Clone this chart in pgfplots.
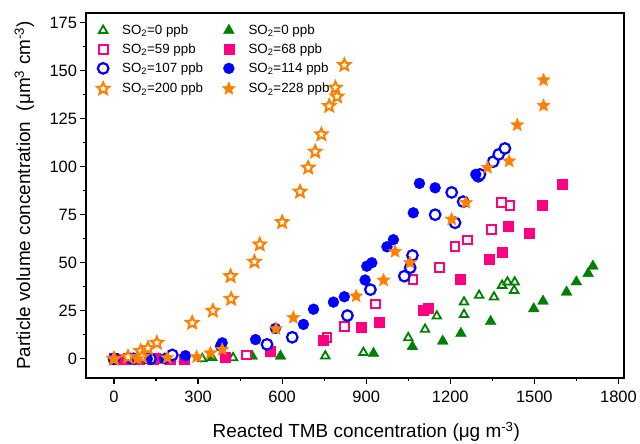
\documentclass[border=0pt]{standalone}
\usepackage{fontspec}
\setmainfont{Liberation Sans}
\usepackage{pgfplots}
\pgfplotsset{compat=1.18}
\definecolor{cgreen}{RGB}{0,128,0}
\definecolor{cpink}{RGB}{255,0,128}
\definecolor{cblue}{RGB}{0,0,255}
\definecolor{corange}{RGB}{255,128,0}
\pgfdeclareplotmark{pstar}{%
  \pgfpathmoveto{\pgfpointpolar{90}{\pgfplotmarksize}}%
  \pgfpathlineto{\pgfpointpolar{126}{0.45*\pgfplotmarksize}}%
  \pgfpathlineto{\pgfpointpolar{162}{\pgfplotmarksize}}%
  \pgfpathlineto{\pgfpointpolar{198}{0.45*\pgfplotmarksize}}%
  \pgfpathlineto{\pgfpointpolar{234}{\pgfplotmarksize}}%
  \pgfpathlineto{\pgfpointpolar{270}{0.45*\pgfplotmarksize}}%
  \pgfpathlineto{\pgfpointpolar{306}{\pgfplotmarksize}}%
  \pgfpathlineto{\pgfpointpolar{342}{0.45*\pgfplotmarksize}}%
  \pgfpathlineto{\pgfpointpolar{18}{\pgfplotmarksize}}%
  \pgfpathlineto{\pgfpointpolar{54}{0.45*\pgfplotmarksize}}%
  \pgfpathclose
  \pgfusepathqfillstroke
}
\begin{document}
\begin{tikzpicture}
\path[use as bounding box] (-86bp,-66bp) rectangle (554bp,378bp);
\begin{axis}[
  at={(0,0)}, anchor=south west, scale only axis,
  width=538bp, height=365bp,
  xmin=-100, xmax=1820, ymin=-10, ymax=180,
  xtick={0,300,...,1800}, ytick={0,25,...,175},
  minor x tick num=1, minor y tick num=1,
  tick align=outside, xtick pos=bottom, ytick pos=left,
  major tick length=5.5bp, minor tick length=3bp,
  every tick/.style={black, line width=1.2bp},
  axis line style={black, line width=1.6bp},
  tick label style={font=\fontsize{16.5}{18}\selectfont},
  xticklabel style={yshift=-4bp},
  /pgf/number format/assume math mode=true,
  /pgf/number format/1000 sep={},
  xlabel={Reacted TMB concentration (μg m\textsuperscript{-3})},
  ylabel={Particle volume concentration\ \ (μm\textsuperscript{3} cm\textsuperscript{-3})},
  label style={font=\fontsize{19}{21}\selectfont},
  xlabel style={at={(axis description cs:0.521,-0.163)}, anchor=base},
  ylabel style={at={(axis description cs:-0.104,0.5)}, anchor=base},
  legend columns=2,
  legend cell align=left,
  legend style={draw=none, fill=none, at={(axis description cs:0.0204,0.970)}, anchor=north west,
    font=\fontsize{13.4}{15}\selectfont, inner sep=0pt, row sep=7.8bp, column sep=13bp,
    nodes={inner sep=0pt},
    /tikz/column 2/.style={column sep=19bp}},
  legend image code/.code={\draw[mark repeat=2,mark phase=2,#1] plot coordinates {(0bp,0bp)(7bp,0bp)(14bp,0bp)};},
]
% SO2=0 ppb open triangles
\addplot[only marks, mark=triangle*, mark size=4.9bp, mark options={draw=cgreen, fill=white, line width=1.8bp}] coordinates {
(0,0) (60,0) (120,0) (180,0) (315,0) (425,0.5) (754,1.4) (890,3.2) (1050,10.9) (1110,15.3) (1152,22.2) (1249,23) (1249,29.5) (1303,33) (1356,32.1) (1385,38.2) (1404,39.9) (1430,39.9) (1428,35.6)};
\addlegendentry{SO\textsubscript{2}=0 ppb}
% SO2=0 ppb filled triangles
\addplot[only marks, mark=triangle*, mark size=6.3bp, mark options={draw=cgreen, fill=cgreen, line width=0.3bp}] coordinates {
(0,0) (80,0) (160,0) (250,0) (350,0.6) (493,1.4) (594,1.4) (926,2.8) (1065,6.3) (1173,9.2) (1238,13.2) (1344,19.4) (1498,26) (1531,30) (1615,34.7) (1650,40) (1692,44.4) (1709,48.2)};
\addlegendentry{SO\textsubscript{2}=0 ppb}
% SO2=59 open squares
\addplot[only marks, mark=square*, mark size=4.4bp, mark options={draw=cpink, fill=white, line width=2bp}] coordinates {
(0,0) (50,0) (100,0) (150,0) (200,0) (473,2) (760,10.9) (822,16.7) (934,28.5) (1067,41.3) (1162,47.4) (1217,58.3) (1261,61.8) (1348,67.3) (1383,81.2) (1413,80)};
\addlegendentry{SO\textsubscript{2}=59 ppb}
% SO2=68 filled squares
\addplot[only marks, mark=square*, mark size=5bp, mark options={draw=cpink, fill=cpink, line width=0.3bp}] coordinates {
(0,0) (40,0) (90,0) (140,0) (200,0) (249,0) (398,1) (556,4) (748,9.7) (882,16.7) (947,19) (1104,25.2) (1122,26.3) (1235,41.3) (1339,51.7) (1385,55.7) (1407,69) (1480,65.6) (1528,80) (1599,90.8)};
\addlegendentry{SO\textsubscript{2}=68 ppb}
% SO2=107 open circles
\addplot[only marks, mark=*, mark size=5.3bp, mark options={draw=cblue, fill=white, line width=2.2bp}] coordinates {
(0,0) (70,0) (130,0) (208,2) (546,7.5) (636,11.2) (833,22.5) (915,36) (1036,43) (1057,47.4) (1065,53.8) (1146,75) (1205,86.6) (1217,70.8) (1246,81.8) (1300,95) (1306,96) (1353,102.6) (1373,106.4) (1395,109.5)};
\addlegendentry{SO\textsubscript{2}=107 ppb}
% SO2=114 filled circles
\addplot[only marks, mark=*, mark size=5.5bp, mark options={draw=cblue, fill=cblue, line width=0.3bp}] coordinates {
(0,0) (60,0) (119,0) (180,0) (255,1.6) (380,6.6) (386,8.3) (505,10) (576,15.8) (676,17.9) (712,25.8) (783,29.5) (822,32.3) (896,41) (902,48.2) (920,50) (974,58.3) (997,62) (1068,76) (1090,91.3) (1146,89) (1291,96)};
\addlegendentry{SO\textsubscript{2}=114 ppb}
% SO2=200 open stars
\addplot[only marks, mark=pstar, mark size=6.3bp, mark options={draw=corange, fill=white, line width=2bp}] coordinates {
(0,0) (50,1) (95,4) (100,1) (121,5.5) (153,8.3) (279,18.7) (353,25) (418,31.2) (416,43) (501,50.5) (520,59.5) (600,71.1) (664,87) (693,99.5) (718,107.8) (740,116.8) (768,131.6) (790,141.1) (796,136.5) (822,152.9)};
\addlegendentry{SO\textsubscript{2}=200 ppb}
% SO2=228 filled stars
\addplot[only marks, mark=pstar, mark size=7bp, mark options={draw=corange, fill=corange, line width=0.3bp}] coordinates {
(0,0) (83,0) (190,0.5) (295,1) (344,3) (386,4.8) (578,15.6) (640,21.4) (864,32.6) (962,40.9) (1003,55.8) (1056,50) (1205,72.6) (1256,81.3) (1333,99.5) (1410,102.9) (1439,121.7) (1533,131.8) (1533,145.1)};
\addlegendentry{SO\textsubscript{2}=228 ppb}
\end{axis}
\draw[black, line width=1.8bp] (0,365bp) -- (538bp,365bp) -- (538bp,0);
\end{tikzpicture}
\end{document}
